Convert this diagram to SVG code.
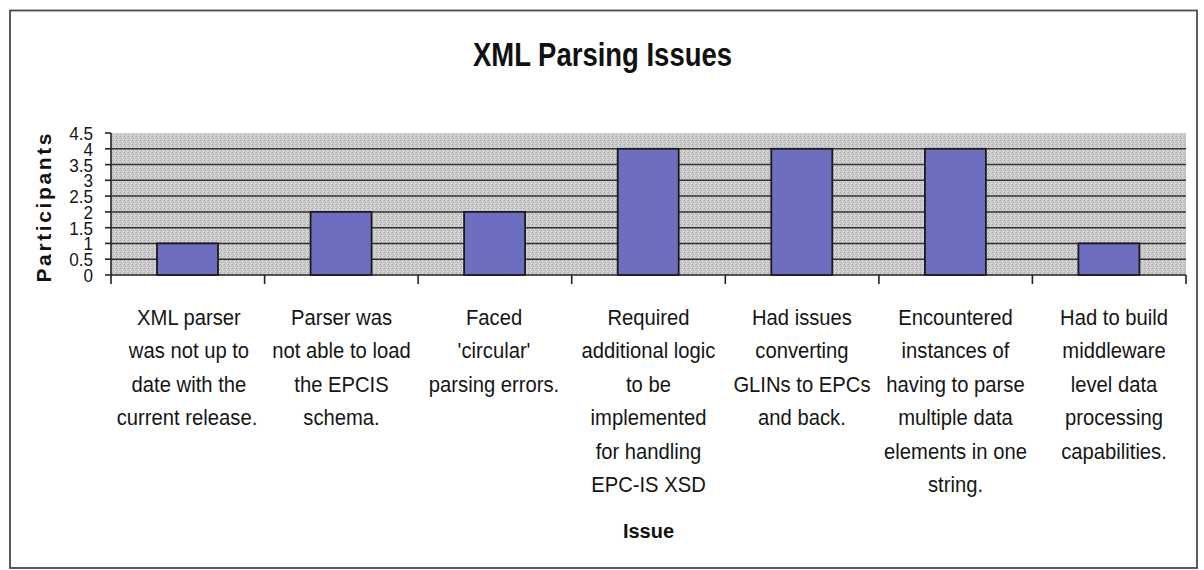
<svg xmlns="http://www.w3.org/2000/svg" width="1204" height="570" viewBox="0 0 1204 570">
<style>
  .cat { font-family: "Liberation Sans", Arial, sans-serif; font-size: 22px; fill: #151515; text-anchor: middle; }
  .ytick { font-family: "Liberation Sans", Arial, sans-serif; font-size: 19px; fill: #151515; text-anchor: end; }
  .grid { stroke: #333; stroke-width: 1.5; }
  .axis { stroke: #222; stroke-width: 1.6; fill: none; }
  .bar { fill: #6e6ec0; stroke: #1a1a1a; stroke-width: 1.8; }
</style>
<defs>
  <pattern id="stipple" width="4" height="4" patternUnits="userSpaceOnUse">
    <rect width="4" height="4" fill="#cbcbcb"/>
    <rect x="0" y="0" width="1" height="1" fill="#a8a8a8"/>
    <rect x="2" y="1" width="1" height="1" fill="#e6e6e6"/>
    <rect x="1" y="2" width="1" height="1" fill="#b0b0b0"/>
    <rect x="3" y="3" width="1" height="1" fill="#e0e0e0"/>
    <rect x="3" y="1" width="1" height="1" fill="#b8b8b8"/>
  </pattern>
</defs>
<rect width="1204" height="570" fill="#ffffff"/>
<g id="frame">
  <rect x="10" y="10.5" width="1187" height="557.5" fill="none" stroke="#4a4a4a" stroke-width="1.8"/>
</g>
<g id="title">
  <text x="602.5" y="66" font-family="'Liberation Sans', Arial, sans-serif" font-size="33" font-weight="bold" fill="#111" text-anchor="middle" textLength="259" lengthAdjust="spacingAndGlyphs">XML Parsing Issues</text>
</g>
<g id="plot-area">
  <rect x="111" y="133" width="1075" height="142" fill="url(#stipple)"/>
  <g id="gridlines">
    <line class="grid" x1="111" y1="148.8" x2="1186" y2="148.8"/>
    <line class="grid" x1="111" y1="164.6" x2="1186" y2="164.6"/>
    <line class="grid" x1="111" y1="180.3" x2="1186" y2="180.3"/>
    <line class="grid" x1="111" y1="196.1" x2="1186" y2="196.1"/>
    <line class="grid" x1="111" y1="211.9" x2="1186" y2="211.9"/>
    <line class="grid" x1="111" y1="227.7" x2="1186" y2="227.7"/>
    <line class="grid" x1="111" y1="243.4" x2="1186" y2="243.4"/>
    <line class="grid" x1="111" y1="259.2" x2="1186" y2="259.2"/>
  </g>
</g>
<g id="bars">
  <rect id="bar1" class="bar" x="157" y="243.4" width="61" height="31.6"/>
  <rect id="bar2" class="bar" x="310.6" y="211.9" width="61" height="63.1"/>
  <rect id="bar3" class="bar" x="464.1" y="211.9" width="61" height="63.1"/>
  <rect id="bar4" class="bar" x="617.7" y="148.8" width="61" height="126.2"/>
  <rect id="bar5" class="bar" x="771.3" y="148.8" width="61" height="126.2"/>
  <rect id="bar6" class="bar" x="924.9" y="148.8" width="61" height="126.2"/>
  <rect id="bar7" class="bar" x="1078.4" y="243.4" width="61" height="31.6"/>
</g>
<g id="axes">
  <line class="axis" x1="111" y1="133" x2="111" y2="284"/>
  <line class="axis" x1="105" y1="275" x2="1186" y2="275"/>
  <g id="y-ticks">
    <line class="axis" x1="105" y1="133" x2="111" y2="133"/>
    <line class="axis" x1="105" y1="148.8" x2="111" y2="148.8"/>
    <line class="axis" x1="105" y1="164.6" x2="111" y2="164.6"/>
    <line class="axis" x1="105" y1="180.3" x2="111" y2="180.3"/>
    <line class="axis" x1="105" y1="196.1" x2="111" y2="196.1"/>
    <line class="axis" x1="105" y1="211.9" x2="111" y2="211.9"/>
    <line class="axis" x1="105" y1="227.7" x2="111" y2="227.7"/>
    <line class="axis" x1="105" y1="243.4" x2="111" y2="243.4"/>
    <line class="axis" x1="105" y1="259.2" x2="111" y2="259.2"/>
  </g>
  <g id="x-ticks">
    <line class="axis" x1="264.6" y1="275" x2="264.6" y2="284"/>
    <line class="axis" x1="418.1" y1="275" x2="418.1" y2="284"/>
    <line class="axis" x1="571.7" y1="275" x2="571.7" y2="284"/>
    <line class="axis" x1="725.3" y1="275" x2="725.3" y2="284"/>
    <line class="axis" x1="878.9" y1="275" x2="878.9" y2="284"/>
    <line class="axis" x1="1032.4" y1="275" x2="1032.4" y2="284"/>
    <line class="axis" x1="1186" y1="275" x2="1186" y2="284"/>
  </g>
</g>
<g id="y-labels" transform="translate(93,0) scale(0.9,1)">
  <text class="ytick" x="0" y="140">4.5</text>
  <text class="ytick" x="0" y="155.8">4</text>
  <text class="ytick" x="0" y="171.6">3.5</text>
  <text class="ytick" x="0" y="187.3">3</text>
  <text class="ytick" x="0" y="203.1">2.5</text>
  <text class="ytick" x="0" y="218.9">2</text>
  <text class="ytick" x="0" y="234.7">1.5</text>
  <text class="ytick" x="0" y="250.4">1</text>
  <text class="ytick" x="0" y="266.2">0.5</text>
  <text class="ytick" x="0" y="282">0</text>
</g>
<g id="y-title">
  <text transform="translate(51,208) rotate(-90)" font-family="'Liberation Sans', Arial, sans-serif" font-size="21" font-weight="bold" fill="#111" text-anchor="middle" textLength="149" lengthAdjust="spacing">Participants</text>
</g>
<g id="category-labels" transform="scale(0.92,1)">
  <text class="cat" x="205.4" y="325">XML parser<tspan x="205.4" dy="33.4">was not up to</tspan><tspan x="205.4" dy="33.4">date with the</tspan><tspan x="203.3" dy="33.4">current release.</tspan></text>
  <text class="cat" x="371.2" y="325">Parser was<tspan x="371.2" dy="33.4">not able to load</tspan><tspan x="371.2" dy="33.4">the EPCIS</tspan><tspan x="371.2" dy="33.4">schema.</tspan></text>
  <text class="cat" x="537" y="325">Faced<tspan x="537" dy="33.4">'circular'</tspan><tspan x="537" dy="33.4">parsing errors.</tspan></text>
  <text class="cat" x="704.9" y="325">Required<tspan x="704.9" dy="33.4">additional logic</tspan><tspan x="704.9" dy="33.4">to be</tspan><tspan x="704.9" dy="33.4">implemented</tspan><tspan x="704.9" dy="33.4">for handling</tspan><tspan x="704.9" dy="33.4">EPC-IS XSD</tspan></text>
  <text class="cat" x="871.7" y="325">Had issues<tspan x="871.7" dy="33.4">converting</tspan><tspan x="871.7" dy="33.4">GLINs to EPCs</tspan><tspan x="871.7" dy="33.4">and back.</tspan></text>
  <text class="cat" x="1038.6" y="325">Encountered<tspan x="1038.6" dy="33.4">instances of</tspan><tspan x="1038.6" dy="33.4">having to parse</tspan><tspan x="1038.6" dy="33.4">multiple data</tspan><tspan x="1038.6" dy="33.4">elements in one</tspan><tspan x="1038.6" dy="33.4">string.</tspan></text>
  <text class="cat" x="1210.9" y="325">Had to build<tspan x="1210.9" dy="33.4">middleware</tspan><tspan x="1210.9" dy="33.4">level data</tspan><tspan x="1210.9" dy="33.4">processing</tspan><tspan x="1210.9" dy="33.4">capabilities.</tspan></text>
</g>
<g id="x-title">
  <text x="648.5" y="538" font-family="'Liberation Sans', Arial, sans-serif" font-size="20" font-weight="bold" fill="#111" text-anchor="middle">Issue</text>
</g>
</svg>
